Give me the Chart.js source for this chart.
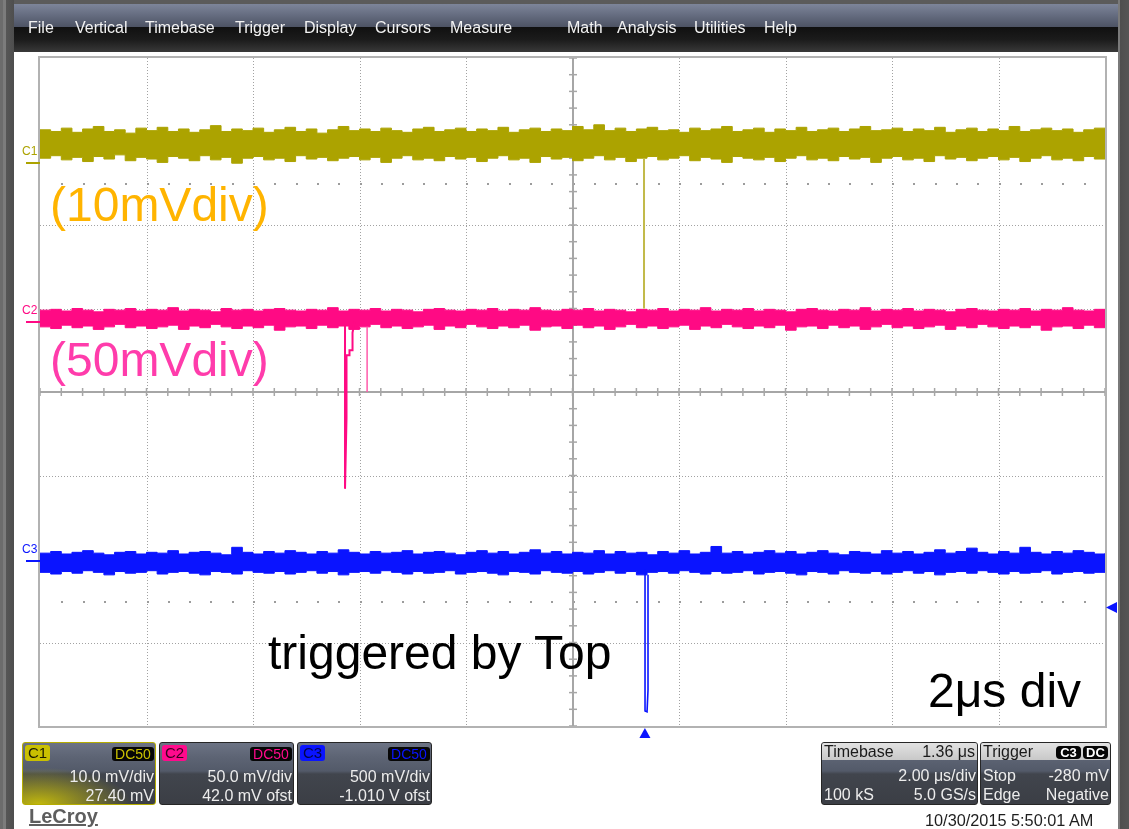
<!DOCTYPE html>
<html>
<head>
<meta charset="utf-8">
<script src="https://cdn.jsdelivr.net/npm/chart.js@4/dist/chart.umd.min.js"></script>
<style>
  html, body { margin: 0; padding: 0; }
  body { width: 1129px; height: 829px; overflow: hidden; position: relative; background: #5b5b5b;
         font-family: "Liberation Sans", Arial, sans-serif; }
  .abs { position: absolute; }
  #leftStrip { left: 0; top: 0; width: 14px; height: 829px;
               background: linear-gradient(90deg, #6c6c6c 0, #6c6c6c 3px, #7c7c7c 3px, #7c7c7c 6px, #565656 6px, #4e4e4e 14px); }
  #rightStrip { left: 1118px; top: 0; width: 11px; height: 829px;
                background: linear-gradient(90deg, #7a7a7a 0, #7a7a7a 2px, #4e4e4e 2px, #555 11px); }
  #menu { left: 14px; top: 4px; width: 1104px; height: 48px;
          background: linear-gradient(#7d859a 0, #5f6679 14px, #4d5364 23px, #101010 23px, #1c1c1c 36px, #393939 48px); }
  #sheet { left: 14px; top: 52px; width: 1104px; height: 777px; background: #fff; }
  #scope { position: absolute; left: 0; top: 0; z-index: 2; }
  .menuItem { position: absolute; top: 20px; color: #f2f2f2; font-size: 16px; line-height: 16px; z-index: 3; white-space: nowrap; }
  .note { position: absolute; font-size: 48px; line-height: 48px; white-space: nowrap; z-index: 3; }
  .chLabel { position: absolute; left: 22px; font-size: 12px; line-height: 12px; z-index: 3; }
  .panel { position: absolute; top: 742px; height: 61px; border: 1px solid #262626; border-radius: 3px; overflow: hidden; z-index: 3;
           background: linear-gradient(#6c7384 0, #5d6474 14px, #535a69 28px, #41454d 31px, #3b3e45 61px); }
  .panel .tag { position: absolute; left: 2px; top: 2px; width: 25px; height: 16px; border-radius: 3px;
                font-size: 15px; line-height: 16px; text-align: center; }
  .panel .cpl { position: absolute; right: 1px; top: 4px; width: 42px; height: 14px; border-radius: 3px; background: #060606;
                font-size: 14px; line-height: 14px; text-align: center; }
  .panel .row { position: absolute; font-size: 16px; line-height: 16px; color: #ececec; white-space: nowrap; }
  .panel .head { position: absolute; left: 0; top: 0; right: 0; height: 17px; background: linear-gradient(#e2e2e2, #c8c8c8); }
  .panel .head .row { color: #1a1a1a; }
  .pill { position: absolute; top: 3px; height: 13px; border-radius: 4px; background: #050505; color: #fff;
          font-size: 13px; line-height: 13px; text-align: center; font-weight: bold; }
  #logo { left: 29px; top: 806px; font-size: 20px; line-height: 20px; font-weight: bold; color: #5e5e5e;
          text-decoration: underline; text-decoration-thickness: 2px; z-index: 3; }
  #stamp { left: 925px; top: 812px; font-size: 16.3px; line-height: 16px; color: #1e1e1e; z-index: 3; white-space: nowrap; }
</style>
</head>
<body>
<div id="leftStrip" class="abs"></div>
<div id="rightStrip" class="abs"></div>
<div id="menu" class="abs"></div>
<div id="sheet" class="abs"></div>
<canvas id="scope" width="1129" height="829"></canvas>

<div class="note" style="left:50px;top:181px;color:#ffb400">(10mVdiv)</div>
<div class="note" style="left:50px;top:336px;color:#ff3cab">(50mVdiv)</div>
<div class="note" style="left:268px;top:629px;color:#000">triggered by Top</div>
<div class="note" style="left:928px;top:667px;color:#000">2μs div</div>

<div class="panel" style="left:22px;width:132px;border-color:#b6ad00;
     background: radial-gradient(ellipse 70% 60% at 12% 100%, rgba(200,190,10,0.95), rgba(200,190,10,0) 100%),
                 linear-gradient(#6c7384 0, #5d6474 14px, #535a69 28px, #41454d 31px, #3b3e45 61px);">
  <div class="tag" style="background:#c9c000;color:#1c1c00">C1</div>
  <div class="cpl" style="color:#c9c000">DC50</div>
  <div class="row" style="right:1px;top:26px">10.0 mV/div</div>
  <div class="row" style="right:1px;top:45px">27.40 mV</div>
</div>
<div class="panel" style="left:159px;width:133px">
  <div class="tag" style="background:#ff0a8c;color:#3a0020">C2</div>
  <div class="cpl" style="color:#ff0a8c">DC50</div>
  <div class="row" style="right:1px;top:26px">50.0 mV/div</div>
  <div class="row" style="right:1px;top:45px">42.0 mV ofst</div>
</div>
<div class="panel" style="left:297px;width:133px">
  <div class="tag" style="background:#0a14ff;color:#00064a">C3</div>
  <div class="cpl" style="color:#0a14ff">DC50</div>
  <div class="row" style="right:1px;top:26px">500 mV/div</div>
  <div class="row" style="right:1px;top:45px">-1.010 V ofst</div>
</div>

<div class="panel" style="left:821px;width:155px">
  <div class="head">
    <div class="row" style="left:2px;top:1px">Timebase</div>
    <div class="row" style="right:2px;top:1px">1.36 μs</div>
  </div>
  <div class="row" style="right:1px;top:25px">2.00 μs/div</div>
  <div class="row" style="left:2px;top:44px">100 kS</div>
  <div class="row" style="right:1px;top:44px">5.0 GS/s</div>
</div>
<div class="panel" style="left:980px;width:129px">
  <div class="head">
    <div class="row" style="left:2px;top:1px">Trigger</div>
    <div class="pill" style="left:75px;width:25px">C3</div>
    <div class="pill" style="left:102px;width:25px">DC</div>
  </div>
  <div class="row" style="left:2px;top:25px">Stop</div>
  <div class="row" style="right:1px;top:25px">-280 mV</div>
  <div class="row" style="left:2px;top:44px">Edge</div>
  <div class="row" style="right:1px;top:44px">Negative</div>
</div>

<div id="logo" class="abs">LeCroy</div>
<div id="stamp" class="abs">10/30/2015 5:50:01 AM</div>

<script>
// ---- acquisition data (screen units: time in µs from centre, amplitude in divisions) ----
const menuItems = ['File', 'Vertical', 'Timebase', 'Trigger', 'Display', 'Cursors', 'Measure', 'Math', 'Analysis', 'Utilities', 'Help'];
const menuLeft  = [28, 75, 145, 235, 304, 375, 450, 567, 617, 694, 764];

const channelNames = ['C1', 'C2', 'C3'];
const voltsPerDiv  = [0.010, 0.050, 0.500];
const offsetVolts  = [0.0274, 0.0420, -1.010];
const triggerDelayUs = 1.36;
const triggerLevelV  = -0.280;
const sweepUs = [-10, 10];
const divsPerScreen = [-4, 4];

// noise envelopes (upper / lower edge of each trace)
const c1Upper = [3.14,3.12,3.16,3.11,3.15,3.18,3.12,3.14,3.10,3.16,
                 3.13,3.17,3.12,3.15,3.11,3.14,3.19,3.12,3.15,3.13,
                 3.16,3.11,3.14,3.17,3.12,3.15,3.10,3.14,3.18,3.13,
                 3.15,3.12,3.16,3.13,3.11,3.15,3.17,3.12,3.14,3.16,
                 3.12,3.15,3.13,3.17,3.11,3.14,3.16,3.12,3.15,3.13,
                 3.18,3.14,3.20,3.13,3.16,3.12,3.15,3.17,3.13,3.14,
                 3.11,3.16,3.13,3.15,3.18,3.12,3.14,3.16,3.11,3.15,
                 3.13,3.17,3.12,3.14,3.16,3.12,3.15,3.18,3.13,3.14,
                 3.16,3.12,3.15,3.13,3.17,3.11,3.14,3.16,3.12,3.15,
                 3.13,3.18,3.12,3.14,3.16,3.13,3.15,3.11,3.14,3.16,3.14];
const c1Lower = [2.80,2.83,2.78,2.81,2.76,2.82,2.79,2.84,2.77,2.81,
                 2.79,2.75,2.82,2.80,2.77,2.83,2.78,2.81,2.74,2.80,
                 2.82,2.78,2.80,2.76,2.83,2.79,2.81,2.77,2.80,2.82,
                 2.78,2.81,2.75,2.80,2.83,2.78,2.80,2.77,2.82,2.79,
                 2.81,2.76,2.80,2.83,2.78,2.80,2.75,2.82,2.79,2.81,
                 2.77,2.80,2.83,2.78,2.81,2.76,2.80,2.82,2.78,2.80,
                 2.83,2.77,2.81,2.79,2.75,2.82,2.80,2.78,2.81,2.76,
                 2.80,2.83,2.78,2.80,2.77,2.82,2.79,2.81,2.75,2.80,
                 2.82,2.78,2.80,2.76,2.83,2.79,2.81,2.77,2.80,2.82,
                 2.78,2.81,2.76,2.80,2.83,2.78,2.80,2.77,2.82,2.79,2.80];
const c2Upper = [0.98,0.99,0.97,1.00,0.98,0.96,0.99,0.98,1.00,0.97,
                 0.99,0.98,1.01,0.97,0.99,0.98,0.96,1.00,0.98,0.99,
                 0.97,0.99,1.00,0.98,0.97,0.99,0.98,1.01,0.97,0.99,
                 0.98,1.00,0.97,0.99,0.98,0.96,0.99,1.00,0.98,0.97,
                 0.99,0.98,1.00,0.97,0.99,0.98,1.01,0.98,0.97,0.99,
                 0.98,1.00,0.97,0.99,0.98,0.96,0.99,0.98,1.00,0.97,
                 0.99,0.98,1.01,0.97,0.99,0.98,1.00,0.97,0.99,0.98,
                 0.96,0.99,1.00,0.98,0.97,0.99,0.98,1.01,0.97,0.99,
                 0.98,1.00,0.97,0.99,0.98,0.96,0.99,1.00,0.98,0.97,
                 0.99,0.98,1.00,0.97,0.99,0.98,1.01,0.98,0.97,0.99,0.98];
const c2Lower = [0.78,0.76,0.80,0.77,0.79,0.75,0.78,0.81,0.77,0.79,
                 0.76,0.78,0.80,0.75,0.79,0.77,0.81,0.78,0.76,0.79,
                 0.77,0.80,0.74,0.78,0.79,0.76,0.80,0.77,0.79,0.75,
                 0.78,0.81,0.77,0.79,0.76,0.78,0.80,0.75,0.79,0.77,
                 0.81,0.78,0.76,0.79,0.77,0.80,0.74,0.78,0.79,0.76,
                 0.80,0.77,0.79,0.75,0.78,0.81,0.77,0.79,0.76,0.78,
                 0.80,0.75,0.79,0.77,0.81,0.78,0.76,0.79,0.77,0.80,
                 0.74,0.78,0.79,0.76,0.80,0.77,0.79,0.75,0.78,0.81,
                 0.77,0.79,0.76,0.78,0.80,0.75,0.79,0.77,0.81,0.78,
                 0.76,0.79,0.77,0.80,0.74,0.78,0.79,0.76,0.80,0.77,0.78];
const c3Upper = [-1.93,-1.91,-1.94,-1.92,-1.90,-1.93,-1.95,-1.92,-1.91,-1.94,
                 -1.92,-1.93,-1.90,-1.94,-1.92,-1.91,-1.93,-1.95,-1.86,-1.92,
                 -1.94,-1.91,-1.93,-1.90,-1.92,-1.94,-1.91,-1.93,-1.89,-1.92,
                 -1.94,-1.91,-1.93,-1.92,-1.90,-1.94,-1.92,-1.91,-1.93,-1.95,
                 -1.92,-1.90,-1.93,-1.91,-1.94,-1.92,-1.89,-1.93,-1.91,-1.94,
                 -1.92,-1.93,-1.90,-1.94,-1.91,-1.93,-1.92,-1.95,-1.91,-1.93,
                 -1.90,-1.94,-1.92,-1.85,-1.93,-1.91,-1.94,-1.92,-1.90,-1.93,
                 -1.91,-1.94,-1.92,-1.90,-1.93,-1.95,-1.91,-1.92,-1.94,-1.90,
                 -1.93,-1.91,-1.94,-1.92,-1.89,-1.93,-1.91,-1.87,-1.92,-1.94,
                 -1.91,-1.93,-1.86,-1.92,-1.94,-1.91,-1.93,-1.90,-1.92,-1.94,-1.93];
const c3Lower = [-2.16,-2.18,-2.15,-2.17,-2.14,-2.16,-2.19,-2.15,-2.17,-2.16,
                 -2.14,-2.18,-2.16,-2.15,-2.17,-2.19,-2.15,-2.16,-2.18,-2.14,
                 -2.16,-2.17,-2.15,-2.18,-2.16,-2.14,-2.17,-2.15,-2.19,-2.16,
                 -2.15,-2.17,-2.14,-2.16,-2.18,-2.15,-2.17,-2.16,-2.14,-2.18,
                 -2.16,-2.15,-2.17,-2.19,-2.15,-2.16,-2.18,-2.14,-2.16,-2.17,
                 -2.15,-2.18,-2.16,-2.14,-2.17,-2.15,-2.19,-2.16,-2.15,-2.17,
                 -2.14,-2.16,-2.18,-2.15,-2.17,-2.16,-2.14,-2.18,-2.16,-2.15,
                 -2.17,-2.19,-2.15,-2.16,-2.18,-2.14,-2.16,-2.17,-2.15,-2.18,
                 -2.16,-2.14,-2.17,-2.15,-2.19,-2.16,-2.15,-2.17,-2.14,-2.16,
                 -2.18,-2.15,-2.17,-2.16,-2.14,-2.18,-2.16,-2.15,-2.17,-2.16,-2.16];

// glitches (time µs, amplitude div)
const c1GlitchUs  = [1.343, 1.343];
const c1GlitchDiv = [2.80, 1.00];
const c2GlitchUs  = [-4.272, -4.272, -4.244, -4.244, -4.188, -4.188, -4.131, -4.131, -4.094];
const c2GlitchDiv = [0.84, -1.16, -0.31, 0.44, 0.44, 0.50, 0.50, 0.71, 0.84];
const c2RingUs    = [-3.857, -3.857];
const c2RingDiv   = [0.78, 0.00];
const c3GlitchUs  = [1.362, 1.362, 1.40, 1.418, 1.418];
const c3GlitchDiv = [-2.13, -3.82, -3.83, -3.57, -2.19];

// ---- styling ----
const traceColor = ['#aca300', '#ff0a84', '#0a14ff'];

// ---- helpers ----
function envelope(values) {
  const step = (sweepUs[1] - sweepUs[0]) / (values.length - 1);
  return values.map((v, i) => ({ x: sweepUs[0] + i * step, y: v }));
}
function pairs(xs, ys) { return xs.map((x, i) => ({ x: x, y: ys[i] })); }
const groundDiv = offsetVolts.map((o, i) => o / voltsPerDiv[i]);
const triggerLevelDiv = (triggerLevelV + offsetVolts[2]) / voltsPerDiv[2];

function bandPair(upper, lower, color) {
  return [
    { data: envelope(upper), borderColor: color, backgroundColor: color, borderWidth: 1, stepped: true, fill: false },
    { data: envelope(lower), borderColor: color, backgroundColor: color, borderWidth: 1, stepped: true, fill: '-1' }
  ];
}
function glitch(xs, ys, color, width) {
  return { data: pairs(xs, ys), borderColor: color, backgroundColor: color, borderWidth: width, fill: false };
}

// ---- graticule ----
const scopeGraticule = {
  id: 'scopeGraticule',
  beforeDatasetsDraw(chart) {
    const { ctx, chartArea: a, scales: { x, y } } = chart;
    const seg = (x1, y1, x2, y2) => { ctx.beginPath(); ctx.moveTo(x1, y1); ctx.lineTo(x2, y2); ctx.stroke(); };
    ctx.save();
    ctx.lineWidth = 1;
    ctx.strokeStyle = '#a2a2a2';
    ctx.setLineDash([1, 2]);
    for (let d = -4; d <= 4; d++) {
      if (d === 0) continue;
      const px = Math.round(x.getPixelForValue(d * 2)) + 0.5;
      seg(px, a.top, px, a.bottom);
    }
    for (let d = -3; d <= 3; d++) {
      if (d === 0) continue;
      const py = Math.round(y.getPixelForValue(d)) + 0.5;
      seg(a.left, py, a.right, py);
    }
    ctx.setLineDash([]);
    // half-division marker rows
    ctx.fillStyle = '#9c9c9c';
    [2.5, -2.5].forEach(v => {
      const py = Math.round(y.getPixelForValue(v));
      for (let k = -24; k <= 24; k++) {
        const px = Math.round(x.getPixelForValue(k * 0.4));
        ctx.fillRect(px, py, 2, 2);
      }
    });
    // centre cross with minor ticks
    const cx = Math.round(x.getPixelForValue(0));
    const cy = Math.round(y.getPixelForValue(0));
    ctx.strokeStyle = '#a6a6a6';
    ctx.lineWidth = 2;
    seg(cx, a.top, cx, a.bottom);
    seg(a.left, cy, a.right, cy);
    ctx.lineWidth = 1.5;
    for (let k = -25; k <= 25; k++) {
      const px = x.getPixelForValue(k * 0.4);
      seg(px, cy - 4, px, cy + 4);
    }
    for (let k = -20; k <= 20; k++) {
      const py = y.getPixelForValue(k * 0.2);
      seg(cx - 4, py, cx + 4, py);
    }
    // frame
    ctx.strokeStyle = '#b2b2b2';
    ctx.lineWidth = 2;
    ctx.strokeRect(a.left - 1, a.top - 1, a.right - a.left + 2, a.bottom - a.top + 2);
    ctx.restore();
  },
  afterDraw(chart) {
    const { ctx, chartArea: a, scales: { x, y } } = chart;
    ctx.save();
    // channel ground markers
    groundDiv.forEach((g, i) => {
      const py = Math.round(y.getPixelForValue(g));
      ctx.fillStyle = traceColor[i];
      ctx.fillRect(a.left - 14, py - 1, 14, 2);
    });
    // trigger position and trigger level arrows
    ctx.fillStyle = traceColor[2];
    const tx = x.getPixelForValue(triggerDelayUs);
    ctx.beginPath();
    ctx.moveTo(tx, a.bottom + 2); ctx.lineTo(tx + 5.5, a.bottom + 12); ctx.lineTo(tx - 5.5, a.bottom + 12);
    ctx.closePath(); ctx.fill();
    const ly = y.getPixelForValue(triggerLevelDiv);
    ctx.beginPath();
    ctx.moveTo(a.right + 1, ly); ctx.lineTo(a.right + 12, ly - 5.5); ctx.lineTo(a.right + 12, ly + 5.5);
    ctx.closePath(); ctx.fill();
    ctx.restore();
  }
};

const datasets = [
  glitch(c1GlitchUs, c1GlitchDiv, '#c2ba4a', 2),
  ...bandPair(c1Upper, c1Lower, traceColor[0]),
  glitch(c2GlitchUs, c2GlitchDiv, traceColor[1], 2),
  glitch(c2RingUs, c2RingDiv, '#ff5cab', 1.5),
  ...bandPair(c2Upper, c2Lower, traceColor[1]),
  glitch(c3GlitchUs, c3GlitchDiv, traceColor[2], 1.6),
  ...bandPair(c3Upper, c3Lower, traceColor[2])
];

const chart = new Chart(document.getElementById('scope'), {
  type: 'line',
  data: { datasets: datasets },
  options: {
    responsive: false,
    animation: false,
    devicePixelRatio: 1,
    layout: { padding: { left: 40, top: 58, right: 24, bottom: 103 } },
    elements: { point: { radius: 0, hoverRadius: 0 }, line: { tension: 0 } },
    plugins: { legend: { display: false }, tooltip: { enabled: false } },
    events: [],
    scales: {
      x: { type: 'linear', min: sweepUs[0], max: sweepUs[1], display: false },
      y: { type: 'linear', min: divsPerScreen[0], max: divsPerScreen[1], display: false }
    }
  },
  plugins: [scopeGraticule]
});

// menu bar
menuItems.forEach((name, i) => {
  const el = document.createElement('div');
  el.className = 'menuItem';
  el.style.left = menuLeft[i] + 'px';
  el.textContent = name;
  document.body.appendChild(el);
});

// channel name tags beside the ground markers
channelNames.forEach((name, i) => {
  const el = document.createElement('div');
  el.className = 'chLabel';
  el.style.color = traceColor[i];
  el.style.top = (chart.scales.y.getPixelForValue(groundDiv[i]) - 18) + 'px';
  el.textContent = name;
  document.body.appendChild(el);
});
</script>
</body>
</html>
